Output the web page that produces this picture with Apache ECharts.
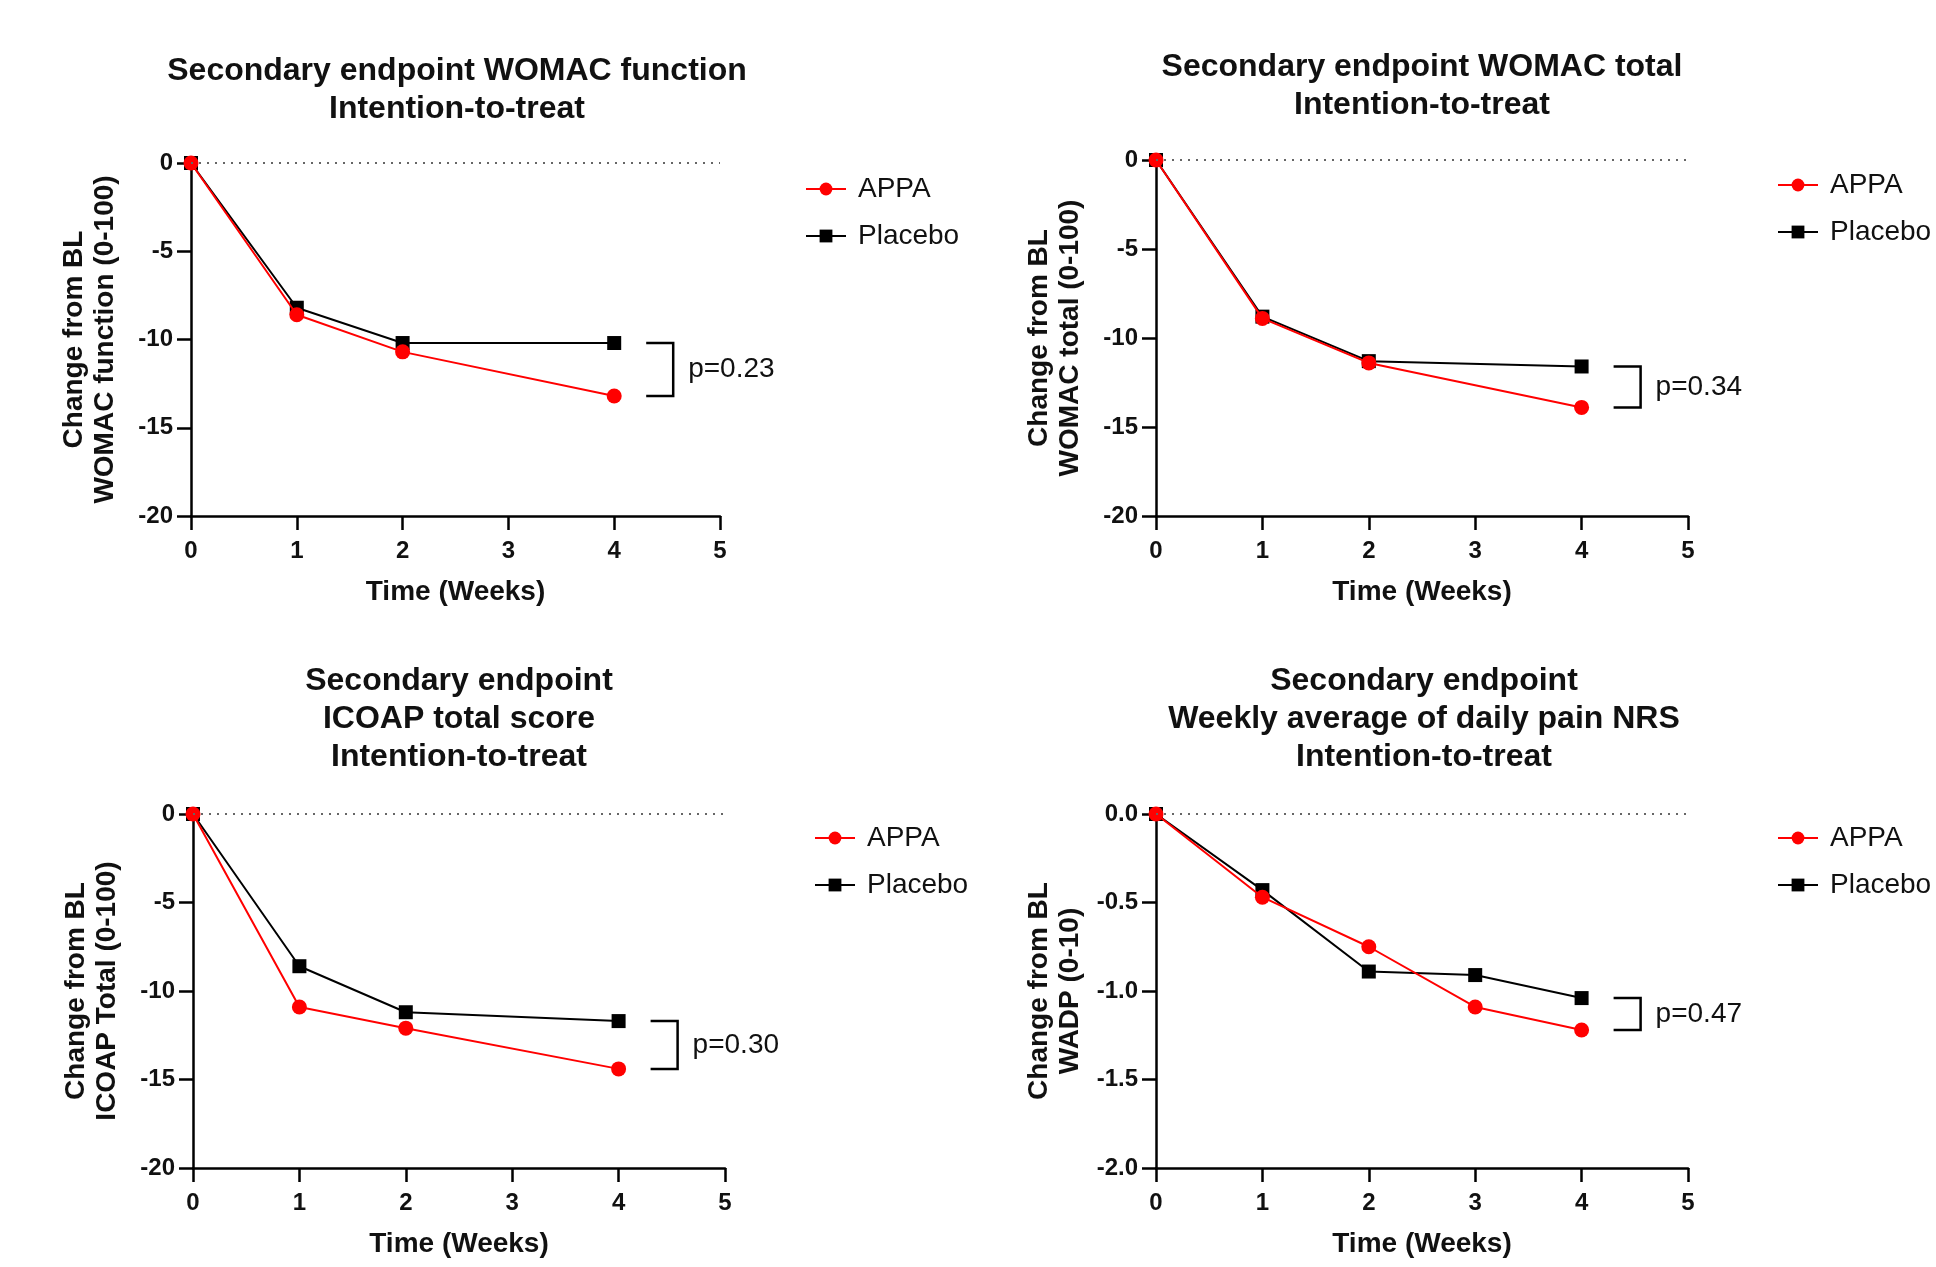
<!DOCTYPE html>
<html>
<head>
<meta charset="utf-8">
<style>
  html, body { margin: 0; padding: 0; background: #fff; }
  #main { width: 1936px; height: 1267px; }
</style>
</head>
<body>
<div id="main"></div>
<script src="https://cdn.jsdelivr.net/npm/echarts@6/dist/echarts.min.js"></script>
<script>
// weeks measured
var weeks = [0, 1, 2, 4];
var weeksWadp = [0, 1, 2, 3, 4];

// change from baseline
var womacFuncAppa = [0, -8.6, -10.7, -13.2];
var womacFuncPlacebo = [0, -8.2, -10.2, -10.2];
var womacTotalAppa = [0, -8.9, -11.4, -13.9];
var womacTotalPlacebo = [0, -8.8, -11.3, -11.6];
var icoapAppa = [0, -10.9, -12.1, -14.4];
var icoapPlacebo = [0, -8.6, -11.2, -11.7];
var wadpAppa = [0, -0.47, -0.75, -1.09, -1.22];
var wadpPlacebo = [0, -0.43, -0.89, -0.91, -1.04];

var pValues = ['p=0.23', 'p=0.34', 'p=0.30', 'p=0.47'];

var titles = [
    'Secondary endpoint WOMAC function\nIntention-to-treat',
    'Secondary endpoint WOMAC total\nIntention-to-treat',
    'Secondary endpoint\nICOAP total score\nIntention-to-treat',
    'Secondary endpoint\nWeekly average of daily pain NRS\nIntention-to-treat'
];
var yNames = [
    'Change from BL\nWOMAC function (0-100)',
    'Change from BL\nWOMAC total (0-100)',
    'Change from BL\nICOAP Total (0-100)',
    'Change from BL\nWADP (0-10)'
];
var yMins = [-20, -20, -20, -2];
var yIntervals = [5, 5, 5, 0.5];

var panels = [
    { x: weeks, appa: womacFuncAppa, placebo: womacFuncPlacebo },
    { x: weeks, appa: womacTotalAppa, placebo: womacTotalPlacebo },
    { x: weeks, appa: icoapAppa, placebo: icoapPlacebo },
    { x: weeksWadp, appa: wadpAppa, placebo: wadpPlacebo }
];

var font = 'Liberation Sans, Arial, sans-serif';

var gridPos = [
    { left: 191, top: 163, width: 529, height: 353 },
    { left: 1156, top: 160, width: 532, height: 356 },
    { left: 193, top: 814, width: 532, height: 354 },
    { left: 1156, top: 814, width: 532, height: 354 }
];
var titlePos = [[452, 47], [1417, 43], [454, 657], [1419, 657]];
var legendPos = [[800, 170], [1772, 166], [809, 819], [1772, 819]];

function pair(xs, ys) {
    return xs.map(function (x, i) { return [x, ys[i]]; });
}

var myChart = echarts.init(document.getElementById('main'));

var option = {
    animation: false,
    backgroundColor: '#fff',
    title: [],
    legend: [],
    grid: [],
    xAxis: [],
    yAxis: [],
    series: []
};

panels.forEach(function (p, i) {
    var g = gridPos[i];
    option.grid.push({ left: g.left, top: g.top, width: g.width, height: g.height, containLabel: false });
    option.title.push({
        text: titles[i],
        left: titlePos[i][0],
        top: titlePos[i][1],
        textAlign: 'center',
        textStyle: { fontFamily: font, fontSize: 32, fontWeight: 'bold', lineHeight: 38, color: '#111' }
    });
    option.legend.push({
        data: ['APPA', 'Placebo'],
        orient: 'vertical',
        left: legendPos[i][0],
        top: legendPos[i][1],
        itemWidth: 40,
        itemHeight: 16,
        itemGap: 19,
        selectedMode: false,
        textStyle: { fontFamily: font, fontSize: 28, color: '#111', padding: [0, 0, 0, 7] }
    });
    option.xAxis.push({
        type: 'value',
        gridIndex: i,
        min: 0,
        max: 5,
        interval: 1,
        name: 'Time (Weeks)',
        nameLocation: 'middle',
        nameGap: 62,
        nameTextStyle: { fontFamily: font, fontSize: 28, fontWeight: 'bold', color: '#111' },
        axisLine: { onZero: false, lineStyle: { color: '#000', width: 2.5 } },
        axisTick: { show: true, length: 14, lineStyle: { color: '#000', width: 2.5 } },
        axisLabel: { fontFamily: font, fontSize: 24, fontWeight: 'bold', color: '#111', margin: 23 },
        splitLine: { show: false }
    });
    option.yAxis.push({
        type: 'value',
        gridIndex: i,
        min: yMins[i],
        max: 0,
        interval: yIntervals[i],
        name: yNames[i],
        nameLocation: 'middle',
        nameRotate: 90,
        nameGap: 70,
        nameTextStyle: { fontFamily: font, fontSize: 28, fontWeight: 'bold', color: '#111', lineHeight: 31 },
        axisLine: { show: true, onZero: false, lineStyle: { color: '#000', width: 2.5 } },
        axisTick: { show: true, length: 14, lineStyle: { color: '#000', width: 2.5 } },
        axisLabel: {
            fontFamily: font, fontSize: 24, fontWeight: 'bold', color: '#111', margin: 18,
            formatter: function (v) { return i === 3 ? v.toFixed(1) : String(v); }
        },
        splitLine: { show: false }
    });
    option.series.push({
        name: 'Placebo',
        type: 'line',
        xAxisIndex: i,
        yAxisIndex: i,
        data: pair(p.x, p.placebo),
        symbol: 'rect',
        symbolSize: 14,
        z: 3,
        itemStyle: { color: '#000' },
        lineStyle: { color: '#000', width: 2 },
        markLine: {
            silent: true,
            symbol: 'none',
            label: { show: false },
            lineStyle: { color: '#666', width: 2, type: [2, 6] },
            data: [{ yAxis: 0 }]
        }
    });
    option.series.push({
        name: 'APPA',
        type: 'line',
        xAxisIndex: i,
        yAxisIndex: i,
        data: pair(p.x, p.appa),
        symbol: 'circle',
        symbolSize: 15,
        z: 4,
        itemStyle: { color: '#ff0000' },
        lineStyle: { color: '#ff0000', width: 2 }
    });
    // significance bracket between the week-4 values
    var last = p.x.length - 1;
    option.series.push({
        type: 'custom',
        xAxisIndex: i,
        yAxisIndex: i,
        silent: true,
        z: 5,
        data: [[p.x[last], p.placebo[last], p.appa[last]]],
        renderItem: function (params, api) {
            var a = api.coord([api.value(0), api.value(1)]);
            var b = api.coord([api.value(0), api.value(2)]);
            var x1 = a[0] + 32, x2 = a[0] + 59;
            return {
                type: 'group',
                children: [{
                    type: 'polyline',
                    shape: { points: [[x1, a[1]], [x2, a[1]], [x2, b[1]], [x1, b[1]]] },
                    style: { stroke: '#000', lineWidth: 2.5, fill: null }
                }, {
                    type: 'text',
                    style: {
                        text: pValues[i],
                        x: x2 + 15,
                        y: (a[1] + b[1]) / 2,
                        verticalAlign: 'middle',
                        font: '28px ' + font,
                        fill: '#111'
                    }
                }]
            };
        }
    });
});

myChart.setOption(option);
</script>
</body>
</html>
